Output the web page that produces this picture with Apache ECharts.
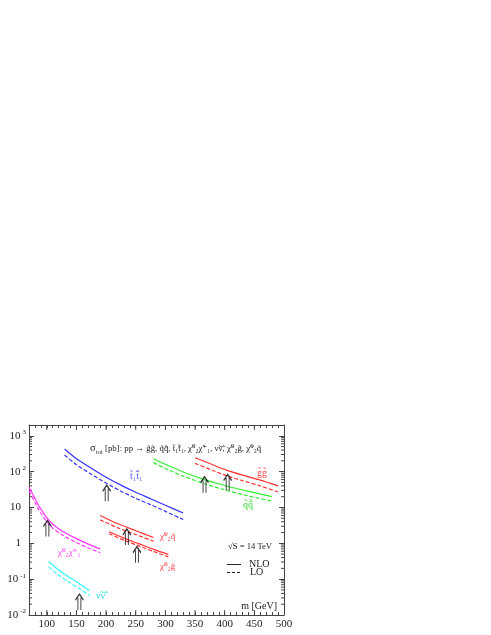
<!DOCTYPE html>
<html>
<head>
<meta charset="utf-8">
<script src="https://cdn.jsdelivr.net/npm/echarts@6/dist/echarts.min.js"></script>
<style>
html, body { margin: 0; padding: 0; background: #fff; }
#chart { width: 491px; height: 635px; }
</style>
</head>
<body>
<div id="chart"></div>
<script>
// masses [GeV] and cross sections [pb]
const massGG = [350, 380, 403, 430, 460, 490];
const ggNLO = [245, 155, 110, 80, 58, 40];
const ggLO = [170, 108, 77, 56, 40, 27];

const massQQ = [280, 300, 330, 366, 400, 440, 480];
const qqNLO = [230, 160, 98, 60, 41, 28, 20];
const qqLO = [178, 122, 75, 46, 31, 21, 15];

const massTT = [130, 150, 175, 200, 225, 250, 275, 300, 330];
const ttNLO = [430, 230, 125, 70, 42, 26.5, 17.5, 11.5, 7];
const ttLO = [290, 156, 85, 48, 28.5, 18, 12, 7.8, 4.6];

const massC2C1 = [70, 80, 85, 90, 100, 110, 125, 150, 170, 190];
const c2c1NLO = [37, 18, 12.3, 9, 5.2, 3.4, 2.25, 1.35, 0.95, 0.70];
const c2c1LO = [29, 14, 9.6, 7, 4.05, 2.65, 1.75, 1.05, 0.74, 0.55];

const massNN = [103, 120, 137, 155, 172];
const nnNLO = [0.31, 0.18, 0.115, 0.075, 0.048];
const nnLO = [0.22, 0.13, 0.083, 0.054, 0.035];

const massC2Q = [190, 220, 250, 280];
const c2qNLO = [6.0, 3.5, 2.25, 1.45];
const c2qLO = [4.5, 2.7, 1.75, 1.15];

const massC2G = [205, 230, 255, 280, 305];
const c2gNLO = [2.1, 1.4, 0.98, 0.68, 0.49];
const c2gLO = [1.85, 1.22, 0.85, 0.59, 0.42];

// the double arrows (mass, cross section at arrow centre)
const arrowMass = [101, 155, 201, 235, 252, 366, 405];
const arrowXsec = [2.6, 0.023, 25, 1.5, 0.48, 43, 50];

const xMajorTicks = [100, 150, 200, 250, 300, 350, 400, 450];

const SERIF = '"Liberation Serif", "DejaVu Serif", serif';
const AXIS = '#444';
const TXT = '#222';

var yMinorTicks = [];
for (var k = -2; k <= 3; k++) {
    for (var j = 2; j <= 9; j++) {
        var v = j * Math.pow(10, k);
        if (v < 2000) yMinorTicks.push(v);
    }
}

function pairs(xs, ys) {
    return xs.map((x, i) => [x, ys[i]]);
}

function curve(name, xs, ys, color, dashed) {
    return {
        name: name,
        type: 'line',
        data: pairs(xs, ys),
        smooth: 0.25,
        symbol: 'none',
        silent: true,
        lineStyle: { color: color, width: 1.2, type: dashed ? [4, 2] : 'solid' },
        z: 3,
    };
}

function yLabel(v) {
    var e = Math.round(Math.log10(v));
    if (Math.abs(Math.log10(v) - e) > 1e-6) return '';
    if (e === 0) return '{b|1}{p|}';
    if (e === 1) return '{b|10}{p|}';
    return '{b|10}{s|' + e + '}';
}

function txt(s, left, top, color, size) {
    return { type: 'text', left: left, top: top, style: { text: s, font: (size || 10) + 'px ' + SERIF, fill: color || TXT } };
}

var myChart = echarts.init(document.getElementById('chart'));

var option = {
    animation: false,
    backgroundColor: '#fff',
    grid: { left: 29, right: 207, top: 425, bottom: 20 },
    xAxis: [{
        type: 'value', min: 70, max: 500, interval: 10,
        axisLine: { lineStyle: { color: AXIS, width: 1 } },
        axisTick: { inside: true, length: 3, lineStyle: { color: AXIS } },
        splitLine: { show: false },
        axisLabel: {
            margin: 4,
            fontFamily: SERIF, fontSize: 11, color: TXT,
            formatter: (v) => (v % 50 === 0 && v >= 100) ? String(v) : '',
        },
    }, {
        type: 'value', min: 70, max: 500, interval: 10, position: 'top',
        axisLine: { lineStyle: { color: AXIS, width: 1 } },
        axisTick: { inside: true, length: 3, lineStyle: { color: AXIS } },
        axisLabel: { show: false },
        splitLine: { show: false },
    }],
    yAxis: [{
        type: 'log', logBase: 10, min: 0.01, max: 2000,
        axisLine: { show: true, lineStyle: { color: AXIS, width: 1 } },
        axisTick: { show: true, inside: true, length: 5, lineStyle: { color: AXIS } },
        splitLine: { show: false },
        axisLabel: {
            margin: 3,
            formatter: yLabel,
            rich: {
                b: { fontFamily: SERIF, fontSize: 11, color: TXT, lineHeight: 14 },
                s: { fontFamily: SERIF, fontSize: 7, color: TXT, verticalAlign: 'top', lineHeight: 14, padding: [0, 0, 6, 2] },
                p: { width: 5 },
            },
        },
    }, {
        type: 'log', logBase: 10, min: 0.01, max: 2000, position: 'right',
        axisLine: { show: true, lineStyle: { color: AXIS, width: 1 } },
        axisTick: { show: true, inside: true, length: 5, lineStyle: { color: AXIS } },
        axisLabel: { show: false },
        splitLine: { show: false },
    }],
    graphic: [
        txt('σ', 90, 443, TXT, 10.5),
        txt('tot', 96, 449, TXT, 6.5),
        txt('[pb]: pp → g̃g̃, q̃q̃̄, t̃₁t̃̄₁, χ̃⁰₂χ̃⁺₁, ν̃ν̃̄, χ̃⁰₂g̃, χ̃⁰₂q̃', 105, 444.5, TXT, 8.8),
        txt('t̃₁t̃̄₁', 130, 471, '#5555ff'),
        txt('χ̃⁰₂χ̃⁺₁', 58, 548, '#ff44ff', 9),
        txt('ν̃ν̃̄', 96, 591, '#33e0e0'),
        txt('χ̃⁰₂q̃', 160, 532, '#ff4444', 9),
        txt('χ̃⁰₂g̃', 160, 562, '#ff4444', 9),
        txt('g̃g̃', 257, 468, '#ff4444'),
        txt('q̃q̃̄', 243, 500, '#33dd33'),
        txt('√S = 14 TeV', 228, 542.5, TXT, 8.6),
        // legend
        { type: 'line', shape: { x1: 227, y1: 564.5, x2: 241, y2: 564.5 }, style: { stroke: TXT, lineWidth: 1 } },
        { type: 'line', shape: { x1: 227, y1: 572.5, x2: 241, y2: 572.5 }, style: { stroke: TXT, lineWidth: 1, lineDash: [3, 2] } },
        txt('NLO', 249, 559),
        txt('LO', 250, 567),
        { type: 'text', right: 214, top: 601, style: { text: 'm [GeV]', font: '10px ' + SERIF, fill: TXT } },
    ],
    series: [
        curve('g̃g̃ NLO', massGG, ggNLO, '#ff3333', false),
        curve('g̃g̃ LO', massGG, ggLO, '#ff3333', true),
        curve('q̃q̃ NLO', massQQ, qqNLO, '#33ee33', false),
        curve('q̃q̃ LO', massQQ, qqLO, '#33ee33', true),
        curve('t̃t̃ NLO', massTT, ttNLO, '#3333ff', false),
        curve('t̃t̃ LO', massTT, ttLO, '#3333ff', true),
        curve('χ̃χ̃ NLO', massC2C1, c2c1NLO, '#ff33ff', false),
        curve('χ̃χ̃ LO', massC2C1, c2c1LO, '#ff33ff', true),
        curve('ν̃ν̃ NLO', massNN, nnNLO, '#33ffff', false),
        curve('ν̃ν̃ LO', massNN, nnLO, '#33ffff', true),
        curve('χ̃q̃ NLO', massC2Q, c2qNLO, '#ff3333', false),
        curve('χ̃q̃ LO', massC2Q, c2qLO, '#ff3333', true),
        curve('χ̃g̃ NLO', massC2G, c2gNLO, '#ff3333', false),
        curve('χ̃g̃ LO', massC2G, c2gLO, '#ff3333', true),
        {
            // double arrows
            type: 'scatter',
            data: pairs(arrowMass, arrowXsec),
            symbol: 'path://M0 6 L3.5 0 L7 6 M2.2 3.6 L2.2 16 M4.8 3.6 L4.8 16',
            symbolSize: [8, 16],
            silent: true,
            itemStyle: { color: 'rgba(0,0,0,0)', borderColor: '#000', borderWidth: 1.3 },
            z: 5,
        },
        {
            // long ticks at labelled masses (bottom and top)
            type: 'custom',
            silent: true,
            clip: false,
            data: xMajorTicks.map((v) => [v, 1]),
            renderItem: function (params, api) {
                var x = api.coord([api.value(0), 1])[0];
                var cs = params.coordSys;
                var st = { stroke: AXIS, lineWidth: 1 };
                return {
                    type: 'group',
                    children: [
                        { type: 'line', shape: { x1: x, y1: cs.y + cs.height, x2: x, y2: cs.y + cs.height - 5 }, style: st },
                        { type: 'line', shape: { x1: x, y1: cs.y, x2: x, y2: cs.y + 5 }, style: st },
                    ],
                };
            },
        },
        {
            // log minor ticks (left and right)
            type: 'custom',
            silent: true,
            clip: false,
            data: yMinorTicks.map((v) => [100, v]),
            renderItem: function (params, api) {
                var y = api.coord([100, api.value(1)])[1];
                var cs = params.coordSys;
                var st = { stroke: AXIS, lineWidth: 1 };
                return {
                    type: 'group',
                    children: [
                        { type: 'line', shape: { x1: cs.x, y1: y, x2: cs.x + 3, y2: y }, style: st },
                        { type: 'line', shape: { x1: cs.x + cs.width, y1: y, x2: cs.x + cs.width - 3, y2: y }, style: st },
                    ],
                };
            },
        },
    ],
};
myChart.setOption(option);
</script>
</body>
</html>
